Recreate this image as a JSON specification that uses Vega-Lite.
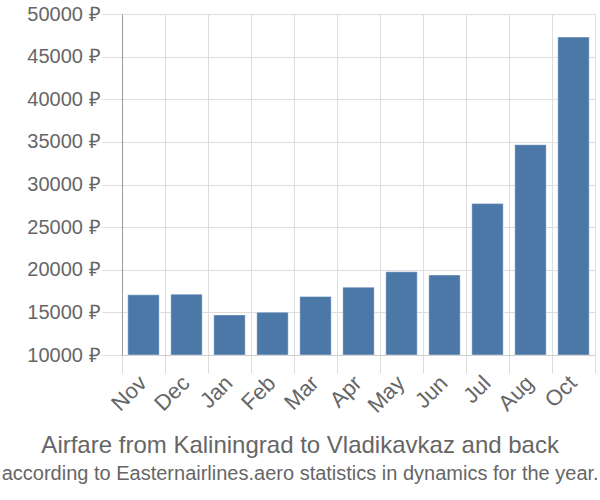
{
  "$schema": "https://vega.github.io/schema/vega-lite/v6.json",
  "width": 473,
  "height": 341,
  "autosize": {"type": "none"},
  "padding": {"left": 122, "top": 14, "right": 5, "bottom": 145},
  "background": "white",
  "title": {
    "text": "Airfare from Kaliningrad to Vladikavkaz and back",
    "subtitle": "according to Easternairlines.aero statistics in dynamics for the year.",
    "orient": "bottom",
    "anchor": "middle",
    "frame": "bounds",
    "dx": -11,
    "font": "Liberation Sans",
    "fontSize": 24,
    "fontWeight": "normal",
    "color": "#666666",
    "subtitleFont": "Liberation Sans",
    "subtitleFontSize": 20,
    "subtitleColor": "#666666",
    "offset": 18,
    "subtitlePadding": 6
  },
  "data": {
    "values": [
      {"month": "Nov", "price": 17060},
      {"month": "Dec", "price": 17140},
      {"month": "Jan", "price": 14700},
      {"month": "Feb", "price": 15020},
      {"month": "Mar", "price": 16860},
      {"month": "Apr", "price": 17960},
      {"month": "May", "price": 19760},
      {"month": "Jun", "price": 19380},
      {"month": "Jul", "price": 27760},
      {"month": "Aug", "price": 34670},
      {"month": "Oct", "price": 47290}
    ]
  },
  "mark": {"type": "bar", "width": {"band": 0.73}, "color": "#4C78A8", "stroke": "#ffffff", "strokeOpacity": 0.4, "strokeWidth": 1},
  "encoding": {
    "x": {
      "field": "month",
      "type": "nominal",
      "sort": null,
      "scale": {"paddingInner": 0, "paddingOuter": 0},
      "axis": {
        "title": null,
        "labelAngle": -45,
        "tickBand": "extent",
        "grid": true,
        "gridColor": "#dddddd",
        "tickColor": "#dddddd",
        "tickSize": 18,
        "domain": true,
        "domainColor": "#cccccc",
        "labelFont": "Liberation Sans",
        "labelFontSize": 22,
        "labelColor": "#666666",
        "labelPadding": -1,
        "labelOffset": -8
      }
    },
    "y": {
      "field": "price",
      "type": "quantitative",
      "scale": {"domain": [10000, 50000], "zero": false, "nice": false},
      "axis": {
        "title": null,
        "values": [10000, 15000, 20000, 25000, 30000, 35000, 40000, 45000, 50000],
        "labelExpr": "format(datum.value, 'd') + ' ₽'",
        "tickSize": 20,
        "tickColor": "#dddddd",
        "gridColor": "#dddddd",
        "domainColor": "#999999",
        "labelFont": "Liberation Sans",
        "labelFontSize": 20,
        "labelColor": "#666666",
        "labelPadding": 2
      }
    },
    "y2": {"datum": 10000}
  },
  "config": {"view": {"stroke": null}}
}
